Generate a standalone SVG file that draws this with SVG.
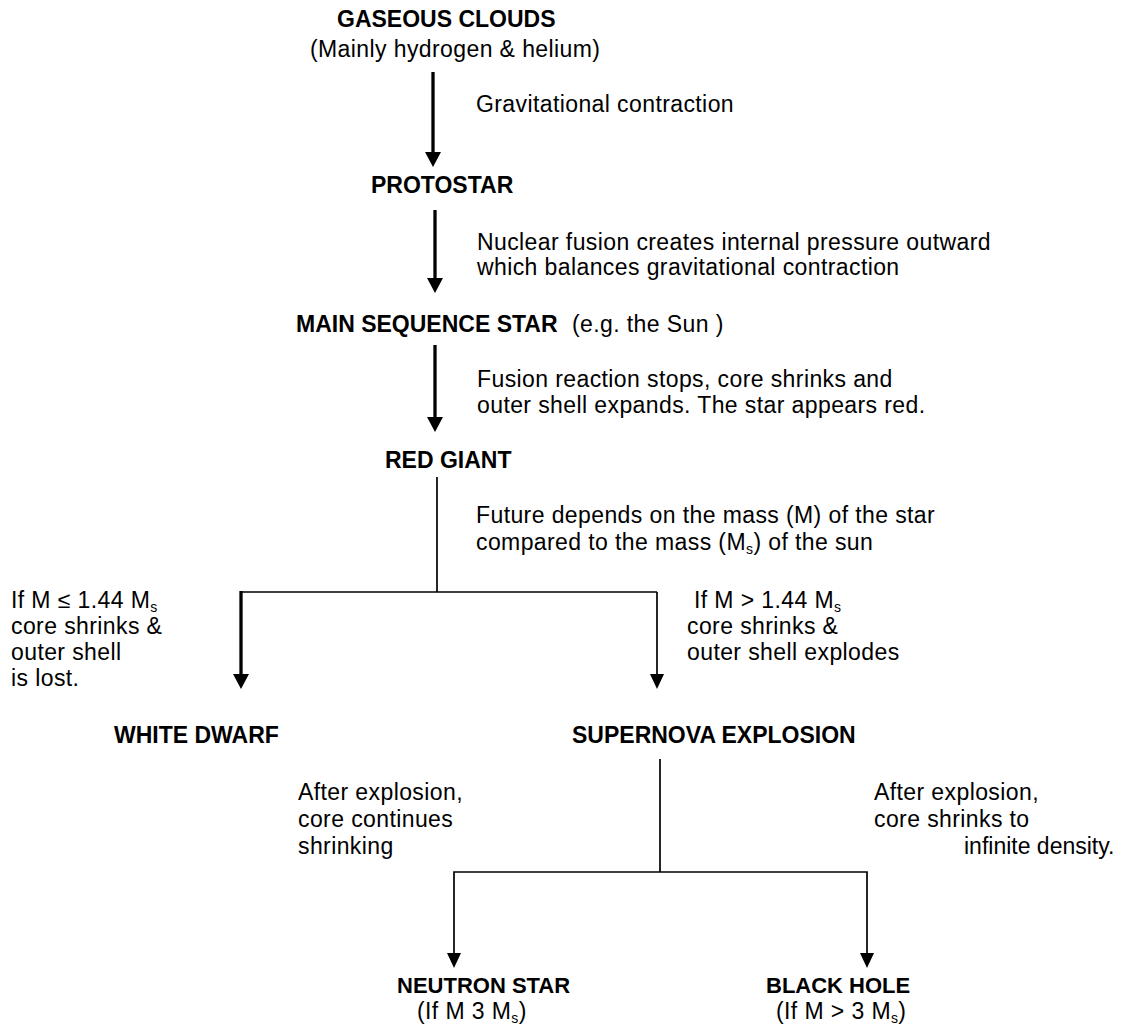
<svg xmlns="http://www.w3.org/2000/svg" width="1130" height="1026" viewBox="0 0 1130 1026">
<style>
text{font-family:"Liberation Sans",Arial,sans-serif;font-size:23px;fill:#000;letter-spacing:0.4px}
.b{font-weight:bold;letter-spacing:0}
.sm{font-size:22px}
.ns{letter-spacing:0}
.sub{font-size:14px}
.thick{stroke:#000;stroke-width:3.3;fill:none}
.thin{stroke:#000;stroke-width:1.7;fill:none}
.head{fill:#000}
</style>
<rect width="1130" height="1026" fill="#fff"/>
<g id="connectors">
<line class="thick" x1="433" y1="72" x2="433" y2="154"/>
<polygon class="head" points="425,152 441,152 433,167"/>
<line class="thick" x1="435" y1="210" x2="435" y2="280"/>
<polygon class="head" points="427,278 443,278 435,293"/>
<line class="thick" x1="435" y1="345" x2="435" y2="419"/>
<polygon class="head" points="427,417 443,417 435,432"/>
<line class="thin" x1="437" y1="477" x2="437" y2="592"/>
<line class="thin" x1="241" y1="592" x2="657" y2="592"/>
<line class="thick" x1="241" y1="591" x2="241" y2="676"/>
<polygon class="head" points="233,674 249,674 241,689"/>
<line class="thin" x1="657" y1="592" x2="657" y2="676"/>
<polygon class="head" points="650,674 664,674 657,689"/>
<line class="thin" x1="660" y1="759" x2="660" y2="872"/>
<polyline class="thin" points="454,955 454,872 867,872 867,955"/>
<polygon class="head" points="447,953 461,953 454,968"/>
<polygon class="head" points="860,953 874,953 867,968"/>
</g>
<g id="gaseous-clouds">
<text class="b" x="337" y="27">GASEOUS CLOUDS</text>
<text x="310" y="57">(Mainly hydrogen &amp; helium)</text>
</g>
<g id="label-gravitational">
<text x="476" y="112">Gravitational contraction</text>
</g>
<g id="protostar">
<text class="b" x="371" y="193">PROTOSTAR</text>
</g>
<g id="label-fusion">
<text x="477" y="250">Nuclear fusion creates internal pressure outward</text>
<text x="477" y="275">which balances gravitational contraction</text>
</g>
<g id="main-sequence">
<text class="b" x="296" y="332">MAIN SEQUENCE STAR</text>
<text x="572" y="332">(e.g. the Sun )</text>
</g>
<g id="label-red">
<text x="477" y="387">Fusion reaction stops, core shrinks and</text>
<text x="477" y="413">outer shell expands. The star appears red.</text>
</g>
<g id="red-giant">
<text class="b" x="385" y="468">RED GIANT</text>
</g>
<g id="label-future">
<text x="476" y="523">Future depends on the mass (M) of the star</text>
<text x="476" y="550">compared to the mass (M<tspan class="sub" dy="4">s</tspan><tspan dy="-4">) of the sun</tspan></text>
</g>
<g id="label-left">
<text x="11" y="608">If M ≤ 1.44 M<tspan class="sub" dy="4">s</tspan></text>
<text x="11" y="634">core shrinks &amp;</text>
<text x="11" y="660">outer shell</text>
<text x="11" y="686">is lost.</text>
</g>
<g id="label-right">
<text x="694" y="608">If M &gt; 1.44 M<tspan class="sub" dy="4">s</tspan></text>
<text x="687" y="634">core shrinks &amp;</text>
<text x="687" y="660">outer shell explodes</text>
</g>
<g id="white-dwarf">
<text class="b" x="114" y="743">WHITE DWARF</text>
</g>
<g id="supernova">
<text class="b" x="572" y="743">SUPERNOVA EXPLOSION</text>
</g>
<g id="label-neutron">
<text x="298" y="800">After explosion,</text>
<text x="298" y="827">core continues</text>
<text x="298" y="854">shrinking</text>
</g>
<g id="label-blackhole">
<text x="874" y="800">After explosion,</text>
<text x="874" y="827">core shrinks to</text>
<text class="ns" x="964" y="854">infinite density.</text>
</g>
<g id="neutron-star">
<text class="b sm" x="397" y="993">NEUTRON STAR</text>
<text x="417" y="1019">(If M 3 M<tspan class="sub" dy="4">s</tspan><tspan dy="-4">)</tspan></text>
</g>
<g id="black-hole">
<text class="b sm" x="766" y="993">BLACK HOLE</text>
<text x="776" y="1019">(If M &gt; 3 M<tspan class="sub" dy="4">s</tspan><tspan dy="-4">)</tspan></text>
</g>
</svg>
